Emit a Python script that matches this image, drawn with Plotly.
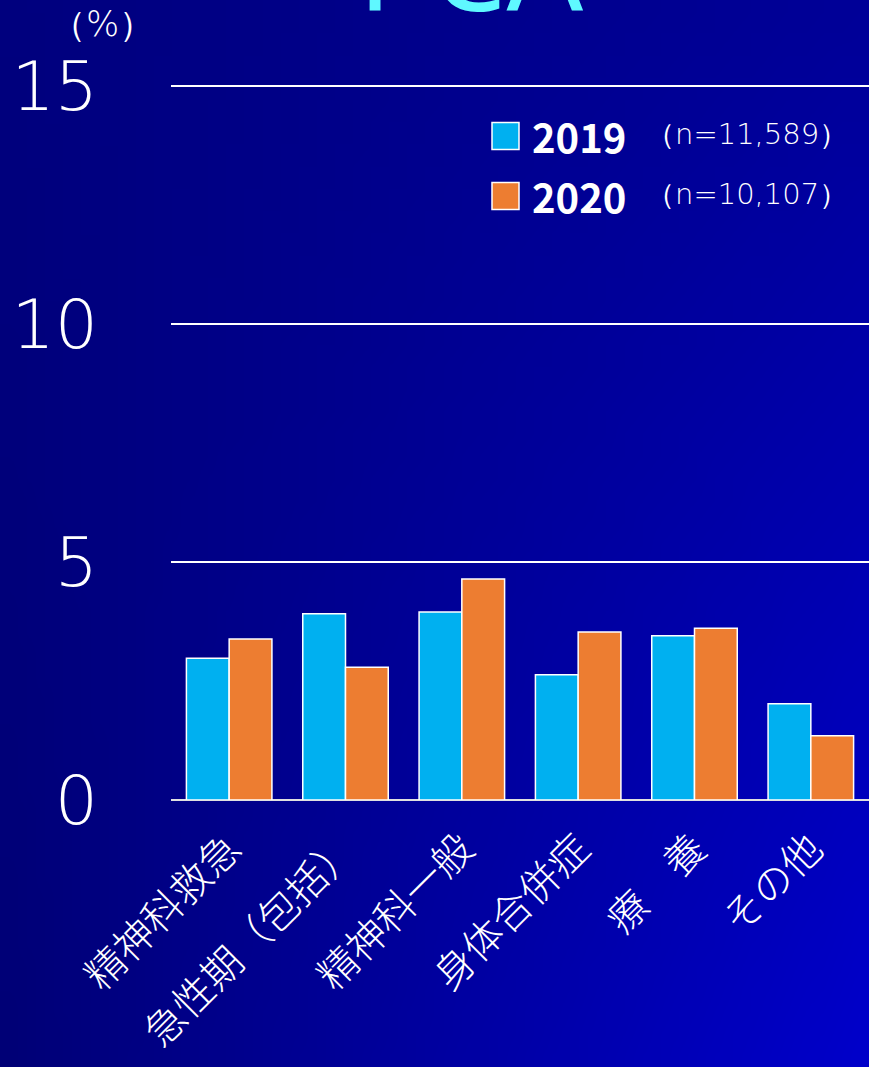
import base64
import struct
import zlib
import plotly.graph_objects as go

# ---------------- data ----------------
categories = ["精神科救急", "急性期（包括）", "精神科一般", "身体合併症", "療　養", "その他"]
values_2019 = [2.98, 3.91, 3.95, 2.63, 3.45, 2.02]
values_2020 = [3.38, 2.79, 4.64, 3.53, 3.61, 1.35]
years = ["2019", "2020"]
sample_sizes = ["（n=11,589）", "（n=10,107）"]
y_ticks = [0, 5, 10, 15]

# ---------------- style ----------------
W, H = 869, 1067
ML, MR, MT, MB = 171, 0, 84, 267
C2019 = "#00B0F0"
C2020 = "#ED7D31"
FONT = "Noto Sans CJK JP"


def xp(px):
    return (px - ML) / (W - ML - MR)


def yp(py):
    return (H - MB - py) / (H - MT - MB)


def gradient_png(w=48, h=48):
    # corner blue intensities: TL, TR, BL, BR
    tl, tr, bl, br = 0x7E, 0x98, 0x76, 0xCA
    raw = b""
    for j in range(h):
        v = j / (h - 1)
        raw += b"\x00"
        for i in range(w):
            u = i / (w - 1)
            b = (tl * (1 - u) * (1 - v) + tr * u * (1 - v)
                 + bl * (1 - u) * v + br * u * v)
            raw += bytes((0, 0, int(round(b))))

    def chunk(t, d):
        c = struct.pack(">I", len(d)) + t + d
        return c + struct.pack(">I", zlib.crc32(t + d) & 0xFFFFFFFF)

    png = b"\x89PNG\r\n\x1a\n"
    png += chunk(b"IHDR", struct.pack(">IIBBBBB", w, h, 8, 2, 0, 0, 0))
    png += chunk(b"IDAT", zlib.compress(raw, 9))
    png += chunk(b"IEND", b"")
    return "data:image/png;base64," + base64.b64encode(png).decode()


fig = go.Figure()
for name, vals, col in [(years[0], values_2019, C2019), (years[1], values_2020, C2020)]:
    fig.add_trace(go.Bar(
        x=categories, y=vals, name=name,
        marker=dict(color=col, line=dict(color="white", width=1.5)),
        showlegend=False,
    ))

fig.add_layout_image(
    source=gradient_png(), xref="paper", yref="paper",
    x=xp(0), y=yp(0), sizex=W / (W - ML - MR), sizey=H / (H - MT - MB),
    xanchor="left", yanchor="top", sizing="stretch", layer="below",
)

# manual legend
legend_rows = [(years[0], sample_sizes[0], C2019, 136), (years[1], sample_sizes[1], C2020, 196)]
for yr, n, col, cy in legend_rows:
    fig.add_shape(type="rect", xref="paper", yref="paper",
                  x0=xp(492), x1=xp(519), y0=yp(cy - 13.5), y1=yp(cy + 13.5),
                  fillcolor=col, line=dict(color="white", width=1.5))
    fig.add_annotation(x=xp(530), y=yp(cy), xref="paper", yref="paper",
                       text=yr, showarrow=False, xanchor="left", yanchor="middle",
                       font=dict(family=FONT, size=40, color="white", weight=600))
    fig.add_annotation(x=xp(644), y=yp(cy - 2), xref="paper", yref="paper",
                       text=n, showarrow=False, xanchor="left", yanchor="middle",
                       font=dict(family="DejaVu Sans", size=29, color="white", weight=200))

# unit label
fig.add_annotation(x=xp(102), y=yp(24), xref="paper", yref="paper",
                   text="（%）", showarrow=False, xanchor="center", yanchor="middle",
                   font=dict(family="DejaVu Sans", size=35, color="white", weight=200))

# title (mostly cut off at the top of the page)
fig.add_annotation(x=xp(470), y=yp(-36), xref="paper", yref="paper",
                   text="PCA", showarrow=False, xanchor="center", yanchor="middle",
                   font=dict(family="Noto Sans", size=120, color="#5FF8FF"))

fig.update_layout(
    width=W, height=H,
    margin=dict(l=ML, r=MR, t=MT, b=MB, pad=0),
    paper_bgcolor="#00008A",
    plot_bgcolor="rgba(0,0,0,0)",
    barmode="group", bargap=0.265, bargroupgap=0,
    font=dict(family=FONT, color="white"),
)
fig.update_yaxes(
    range=[0, 15.04], tickvals=y_ticks, ticktext=[str(v) for v in y_ticks],
    showgrid=True, gridcolor="white", gridwidth=1.5,
    zeroline=True, zerolinecolor="#E0E0E0", zerolinewidth=1.5,
    showline=False, ticks="", ticklabelstandoff=72,
    tickfont=dict(family="DejaVu Sans", size=68, color="white", weight=200),
)
fig.update_xaxes(
    tickangle=-45, showgrid=False, showline=False, ticks="",
    ticklabelstandoff=16,
    tickfont=dict(family=FONT, size=40, color="white", weight=300),
)

fig.write_html(
    "out.html",
    config={"displayModeBar": False},
    post_script="document.body.style.margin='0';document.body.style.overflow='hidden';",
)
